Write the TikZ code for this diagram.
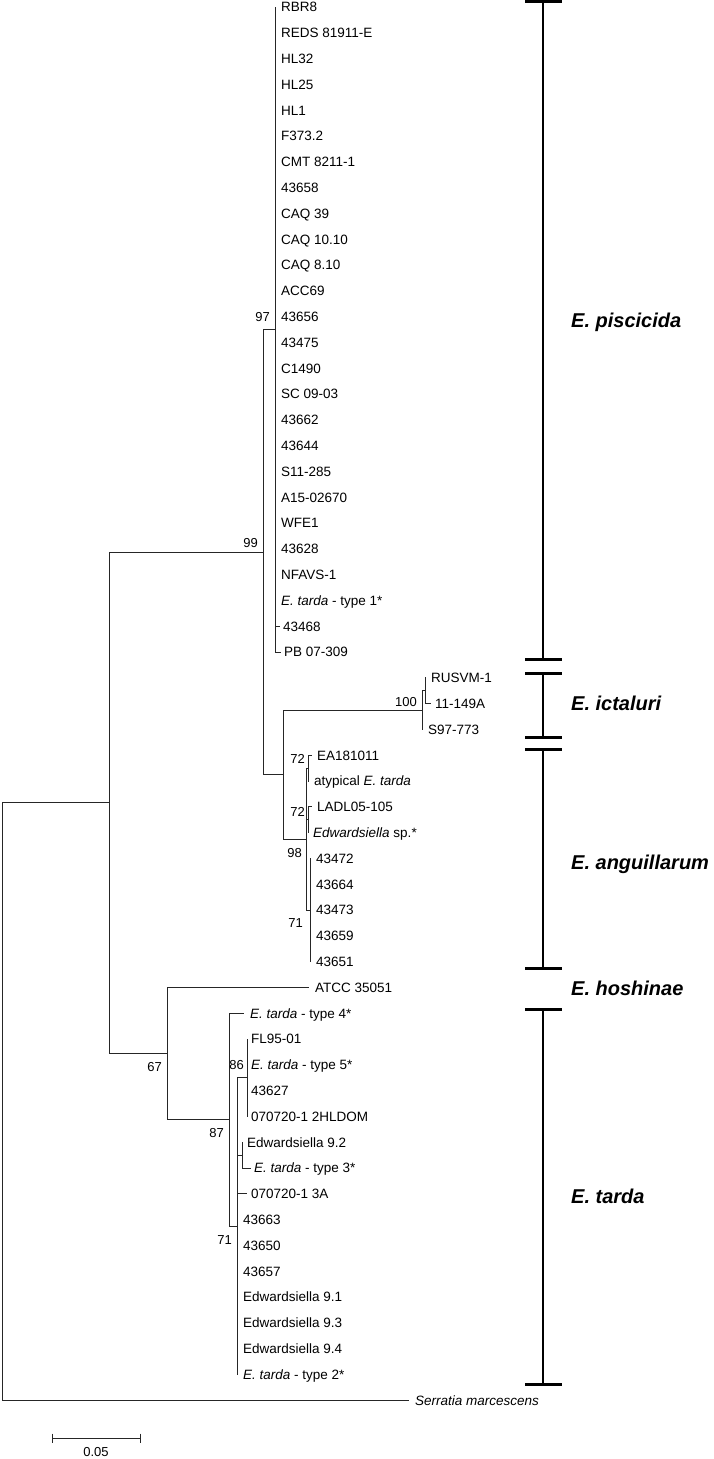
\documentclass[tikz,border=0pt]{standalone}
\usepackage{fontspec}
\setmainfont{Liberation Sans}
\newcommand{\lfnode}[5]{%
  \coordinate (#1) at (#2,#3);
  \node[leaf] (#1l) at (#4,#3) {#5};}
\begin{document}
\begin{tikzpicture}[x=1pt,y=-1pt,
  br/.style={line width=1pt, draw=black!85, line cap=rect},
  leaf/.style={anchor=base west, inner sep=0pt, yshift=-4.8pt, font=\fontsize{13.5}{16}\selectfont},
  boot/.style={anchor=east, inner sep=0pt, font=\fontsize{13}{15}\selectfont},
  clade/.style={anchor=base west, inner sep=0pt, yshift=-7.2pt, font=\fontsize{20}{24}\selectfont\bfseries\itshape},
  bar/.style={line width=2.4pt},
  barcap/.style={line width=3pt},
  scl/.style={line width=1pt, draw=black!85}]
\useasboundingbox (0,0) rectangle (714,1459);

% leaves: name, tip x, y, text x, text
\lfnode{t0}{275}{7}{281}{RBR8}
\lfnode{t1}{275}{32.8}{281}{REDS 81911-E}
\lfnode{t2}{275}{58.6}{281}{HL32}
\lfnode{t3}{275}{84.4}{281}{HL25}
\lfnode{t4}{275}{110.2}{281}{HL1}
\lfnode{t5}{275}{136}{281}{F373.2}
\lfnode{t6}{275}{161.8}{281}{CMT 8211-1}
\lfnode{t7}{275}{187.6}{281}{43658}
\lfnode{t8}{275}{213.4}{281}{CAQ 39}
\lfnode{t9}{275}{239.2}{281}{CAQ 10.10}
\lfnode{t10}{275}{265}{281}{CAQ 8.10}
\lfnode{t11}{275}{290.8}{281}{ACC69}
\lfnode{t12}{275}{316.6}{281}{43656}
\lfnode{t13}{275}{342.4}{281}{43475}
\lfnode{t14}{275}{368.2}{281}{C1490}
\lfnode{t15}{275}{394}{281}{SC 09-03}
\lfnode{t16}{275}{419.8}{281}{43662}
\lfnode{t17}{275}{445.6}{281}{43644}
\lfnode{t18}{275}{471.4}{281}{S11-285}
\lfnode{t19}{275}{497.2}{281}{A15-02670}
\lfnode{t20}{275}{523}{281}{WFE1}
\lfnode{t21}{275}{548.8}{281}{43628}
\lfnode{t22}{275}{574.6}{281}{NFAVS-1}
\lfnode{t23}{275}{600.4}{281}{\textit{E. tarda} - type 1*}
\lfnode{t24}{279}{626.2}{283}{43468}
\lfnode{t25}{280}{652}{284}{PB 07-309}
\lfnode{t26}{425}{677.8}{431}{RUSVM-1}
\lfnode{t27}{430}{703.6}{435}{11-149A}
\lfnode{t28}{422}{729.4}{428}{S97-773}
\lfnode{t29}{311}{755.2}{317}{EA181011}
\lfnode{t30}{308}{781}{314}{atypical \textit{E. tarda}}
\lfnode{t31}{311}{806.8}{317}{LADL05-105}
\lfnode{t32}{308}{832.6}{313}{\textit{Edwardsiella} sp.*}
\lfnode{t33}{310}{858.4}{316}{43472}
\lfnode{t34}{310}{884.2}{316}{43664}
\lfnode{t35}{310}{910}{316}{43473}
\lfnode{t36}{310}{935.8}{316}{43659}
\lfnode{t37}{310}{961.6}{316}{43651}
\lfnode{t38}{308}{987.4}{315}{ATCC 35051}
\lfnode{t39}{243}{1013.2}{250}{\textit{E. tarda} - type 4*}
\lfnode{t40}{247}{1039}{251}{FL95-01}
\lfnode{t41}{247}{1064.8}{251}{\textit{E. tarda} - type 5*}
\lfnode{t42}{247}{1090.6}{251}{43627}
\lfnode{t43}{247}{1116.4}{251}{070720-1 2HLDOM}
\lfnode{t44}{242}{1142.2}{247}{Edwardsiella 9.2}
\lfnode{t45}{250}{1168}{254}{\textit{E. tarda} - type 3*}
\lfnode{t46}{246}{1193.8}{251}{070720-1 3A}
\lfnode{t47}{237}{1219.6}{243}{43663}
\lfnode{t48}{237}{1245.4}{243}{43650}
\lfnode{t49}{237}{1271.2}{243}{43657}
\lfnode{t50}{237}{1297}{243}{Edwardsiella 9.1}
\lfnode{t51}{237}{1322.8}{243}{Edwardsiella 9.3}
\lfnode{t52}{237}{1348.6}{243}{Edwardsiella 9.4}
\lfnode{t53}{237}{1374.4}{243}{\textit{E. tarda} - type 2*}
\lfnode{t54}{408}{1400.2}{415}{\textit{Serratia marcescens}}

% internal nodes
\coordinate (n97) at (275,329.5);
\coordinate (n99) at (263,552);
\coordinate (nR) at (425,690.7);
\coordinate (nIct) at (422,710);
\coordinate (n72a) at (308,768.1);
\coordinate (n72b) at (308,819.7);
\coordinate (n71a) at (310,910);
\coordinate (n98) at (306,839);
\coordinate (nIA) at (283,774.5);
\coordinate (n86) at (247,1077.7);
\coordinate (n92) at (242,1155.1);
\coordinate (n71b) at (237,1226);
\coordinate (n87) at (229,1119.6);
\coordinate (n67) at (167,1053.5);
\coordinate (nA) at (109,802.8);
\coordinate (root) at (2,1101.5);

% branches
\draw[br] (root) |- (nA);
\draw[br] (root) |- (t54);
\draw[br] (nA) |- (n99);
\draw[br] (nA) |- (n67);
\draw[br] (n99) |- (n97);
\draw[br] (n99) |- (nIA);
\foreach \i in {0,...,25} \draw[br] (n97) |- (t\i);
\draw[br] (nIA) |- (nIct);
\draw[br] (nIA) |- (n98);
\draw[br] (nIct) |- (nR);
\draw[br] (nIct) |- (t28);
\draw[br] (nR) |- (t26);
\draw[br] (nR) |- (t27);
\draw[br] (n98) |- (n72a);
\draw[br] (n98) |- (n72b);
\draw[br] (n98) |- (n71a);
\draw[br] (n72a) |- (t29);
\draw[br] (n72a) |- (t30);
\draw[br] (n72b) |- (t31);
\draw[br] (n72b) |- (t32);
\foreach \i in {33,...,37} \draw[br] (n71a) |- (t\i);
\draw[br] (n67) |- (t38);
\draw[br] (n67) |- (n87);
\draw[br] (n87) |- (t39);
\draw[br] (n87) |- (n71b);
\draw[br] (n71b) |- (n86);
\draw[br] (n71b) |- (n92);
\foreach \i in {46,...,53} \draw[br] (n71b) |- (t\i);
\foreach \i in {40,...,43} \draw[br] (n86) |- (t\i);
\draw[br] (n92) |- (t44);
\draw[br] (n92) |- (t45);

% bootstrap values
\node[boot] (b97) at (270,317) {97};
\node[boot] (b99) at (258,543) {99};
\node[boot] (b100) at (417,702) {100};
\node[boot] (b72a) at (305,759) {72};
\node[boot] (b72b) at (305,812) {72};
\node[boot] (b98) at (302,853) {98};
\node[boot] (b71a) at (303,923) {71};
\node[boot] (b67) at (162,1067) {67};
\node[boot] (b87) at (224,1133) {87};
\node[boot] (b86) at (244,1065) {86};
\node[boot] (b71b) at (232,1240) {71};

% clade bars
\coordinate (pT) at (543,1.5);  \coordinate (pB) at (543,659);
\coordinate (iT) at (543,673);  \coordinate (iB) at (543,737);
\coordinate (aT) at (543,749);  \coordinate (aB) at (543,968);
\coordinate (tT) at (543,1009); \coordinate (tB) at (543,1384);
\foreach \a/\b in {pT/pB,iT/iB,aT/aB,tT/tB}{
  \draw[bar] (\a) -- (\b);
  \draw[barcap] ([xshift=-18pt]\a) -- ([xshift=19pt]\a);
  \draw[barcap] ([xshift=-18pt]\b) -- ([xshift=19pt]\b);
}
\node[clade] (cp) at (571,320) {E. piscicida};
\node[clade] (ci) at (571,703) {E. ictaluri};
\node[clade] (ca) at (571,862) {E. anguillarum};
\node[clade] (ch) at (571,988) {E. hoshinae};
\node[clade] (ct) at (571,1196) {E. tarda};

% scale bar
\coordinate (s1) at (52,1438);
\coordinate (s2) at (140,1438);
\draw[scl] (s1) -- (s2);
\draw[scl] ([yshift=4.5pt]s1) -- ([yshift=-4.5pt]s1);
\draw[scl] ([yshift=4.5pt]s2) -- ([yshift=-4.5pt]s2);
\node[boot, anchor=center] (sl) at (96,1452) {0.05};
\end{tikzpicture}
\end{document}
